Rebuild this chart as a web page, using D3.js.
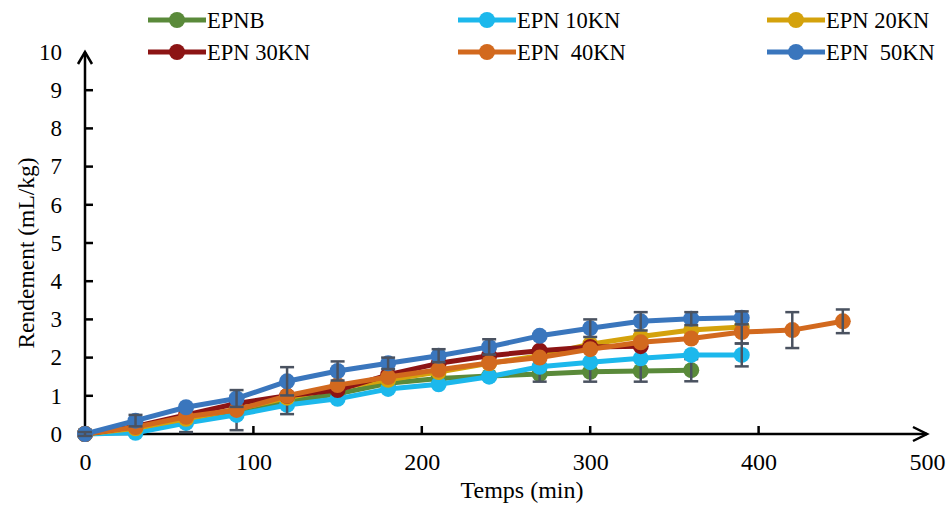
<!DOCTYPE html>
<html>
<head>
<meta charset="utf-8">
<script src="https://cdn.jsdelivr.net/npm/d3@7"></script>
<style>
  body { margin: 0; background: #fff; }
  svg text { font-family: "Times New Roman", Times, "Liberation Serif", serif; font-weight: normal; fill: #000; }
</style>
</head>
<body>
<svg id="chart" width="949" height="505"></svg>
<script>
// Data
const times = [0, 30, 60, 90, 120, 150, 180, 210, 240, 270, 300, 330, 360, 390, 420, 450];

const epnb   = [0, 0.12, 0.35, 0.55, 0.85, 1.05, 1.33, 1.45, 1.52, 1.57, 1.63, 1.65, 1.67];
const epn10  = [0, 0.03, 0.29, 0.50, 0.76, 0.92, 1.18, 1.30, 1.50, 1.76, 1.88, 1.98, 2.07, 2.07];
const epn20  = [0, 0.15, 0.40, 0.65, 0.95, 1.20, 1.42, 1.62, 1.85, 2.05, 2.35, 2.55, 2.72, 2.80];
const epn30  = [0, 0.20, 0.50, 0.80, 1.00, 1.15, 1.55, 1.85, 2.05, 2.18, 2.28, 2.30];
const epn40  = [0, 0.18, 0.45, 0.63, 1.00, 1.28, 1.49, 1.68, 1.86, 2.00, 2.22, 2.40, 2.50, 2.67, 2.72, 2.95];
const epn50  = [0, 0.35, 0.70, 0.93, 1.38, 1.65, 1.85, 2.05, 2.28, 2.57, 2.77, 2.95, 3.02, 3.04];

// error bar half-widths (0 = not visible)
const errB   = [0, 0, 0.3, 0.45, 0, 0, 0, 0, 0, 0.2, 0.26, 0.28, 0.29];
const err10  = [0, 0, 0, 0, 0.24, 0, 0, 0, 0, 0, 0, 0, 0, 0.3];
const err20  = [0, 0, 0, 0, 0, 0, 0, 0, 0, 0, 0, 0, 0, 0];
const err30  = [0, 0, 0, 0, 0, 0, 0, 0, 0, 0, 0, 0];
const err40  = [0, 0, 0, 0, 0, 0, 0, 0, 0, 0, 0, 0, 0, 0.3, 0.47, 0.31];
const err50  = [0.05, 0.15, 0, 0.22, 0.37, 0.25, 0.15, 0.17, 0.2, 0, 0.23, 0.24, 0.17, 0.17];

const seriesNames  = ["EPNB", "EPN 10KN", "EPN 20KN", "EPN 30KN", "EPN  40KN", "EPN  50KN"];
const seriesColors = ["#5a8a3a", "#1cb8ec", "#d4a20c", "#8c1414", "#d2691e", "#3a76bd"];
const seriesValues = [epnb, epn10, epn20, epn30, epn40, epn50];
const seriesErrors = [errB, err10, err20, err30, err40, err50];

const xTicks = [0, 100, 200, 300, 400, 500];
const yTicks = [0, 1, 2, 3, 4, 5, 6, 7, 8, 9, 10];

const svg = d3.select("#chart");
const margin = { left: 85, top: 52, right: 22, bottom: 71 };
const width = 949 - margin.left - margin.right;
const height = 505 - margin.top - margin.bottom;

const g = svg.append("g").attr("transform", `translate(${margin.left}, ${margin.top})`);

const xScale = d3.scaleLinear().domain([0, 500]).range([0, width]);
const yScale = d3.scaleLinear().domain([0, 10]).range([height, 0]);

// axes (labels only, lines drawn below)
const xAxis = g.append("g")
    .attr("transform", `translate(0, ${height})`)
    .call(d3.axisBottom(xScale).tickValues(xTicks).tickSize(0).tickPadding(19));
xAxis.attr("font-family", null);
xAxis.select(".domain").remove();
xAxis.selectAll("text").style("font-size", "24px");

const yAxis = g.append("g")
    .call(d3.axisLeft(yScale).tickValues(yTicks).tickSize(0).tickPadding(23));
yAxis.attr("font-family", null);
yAxis.select(".domain").remove();
yAxis.selectAll("text").style("font-size", "23px");

// axis lines with arrows
g.append("line")
    .attr("x1", 0).attr("x2", 0)
    .attr("y1", height).attr("y2", yScale(10))
    .attr("stroke", "#000").attr("stroke-width", 2.5);
g.append("path")
    .attr("d", `M-7,${yScale(10) + 12} L0,${yScale(10)} L7,${yScale(10) + 12}`)
    .attr("fill", "none").attr("stroke", "#000").attr("stroke-width", 2.5);

g.append("line")
    .attr("x1", 0).attr("x2", xScale(500))
    .attr("y1", height).attr("y2", height)
    .attr("stroke", "#000").attr("stroke-width", 2.5);
g.append("path")
    .attr("d", `M${xScale(500) - 14},${height - 7} L${xScale(500)},${height} L${xScale(500) - 14},${height + 7}`)
    .attr("fill", "none").attr("stroke", "#000").attr("stroke-width", 2.5);

// inside ticks
g.selectAll(".ytick").data(yTicks.slice(1, -1)).enter().append("line")
    .attr("x1", 0).attr("x2", 8)
    .attr("y1", d => yScale(d)).attr("y2", d => yScale(d))
    .attr("stroke", "#000").attr("stroke-width", 2.5);
g.selectAll(".xtick").data(xTicks.slice(1, -1)).enter().append("line")
    .attr("x1", d => xScale(d)).attr("x2", d => xScale(d))
    .attr("y1", height).attr("y2", height - 8)
    .attr("stroke", "#000").attr("stroke-width", 2.5);

// axis titles
g.append("text")
    .attr("x", width / 2 + 16)
    .attr("y", height + 64)
    .attr("text-anchor", "middle")
    .style("font-size", "24px")
    .text("Temps (min)");

g.append("text")
    .attr("transform", `translate(-51, ${height / 2 + 10}) rotate(-90)`)
    .attr("text-anchor", "middle")
    .style("font-size", "23.5px")
    .text("Rendement (mL/kg)");

// series
const line = d3.line()
    .x(d => xScale(d.t))
    .y(d => yScale(d.v));

seriesValues.forEach((vals, i) => {
    const data = vals.map((v, j) => ({ t: times[j], v: v, e: seriesErrors[i][j] }));
    const color = seriesColors[i];

    g.append("path")
        .datum(data)
        .attr("fill", "none")
        .attr("stroke", color)
        .attr("stroke-width", 5)
        .attr("stroke-linejoin", "round")
        .attr("d", line);

    g.selectAll(null).data(data).enter().append("circle")
        .attr("cx", d => xScale(d.t))
        .attr("cy", d => yScale(d.v))
        .attr("r", 8)
        .attr("fill", color);

    const eb = g.selectAll(null).data(data.filter(d => d.e > 0)).enter().append("g")
        .attr("stroke", "#4a5260").attr("stroke-width", 2.5);
    eb.append("line")
        .attr("x1", d => xScale(d.t)).attr("x2", d => xScale(d.t))
        .attr("y1", d => yScale(d.v - d.e)).attr("y2", d => yScale(d.v + d.e));
    eb.append("line")
        .attr("x1", d => xScale(d.t) - 7).attr("x2", d => xScale(d.t) + 7)
        .attr("y1", d => yScale(d.v - d.e)).attr("y2", d => yScale(d.v - d.e));
    eb.append("line")
        .attr("x1", d => xScale(d.t) - 7).attr("x2", d => xScale(d.t) + 7)
        .attr("y1", d => yScale(d.v + d.e)).attr("y2", d => yScale(d.v + d.e));
});

// legend
const legendX = [148, 458, 767];
const legendY = [20, 52];

const legendItem = svg.selectAll(".legend-item")
    .data(seriesNames)
    .enter()
    .append("g")
    .attr("class", "legend-item")
    .attr("transform", (d, i) => `translate(${legendX[i % 3]}, ${legendY[Math.floor(i / 3)]})`);

legendItem.append("line")
    .attr("x1", 0).attr("x2", 58)
    .attr("y1", 0).attr("y2", 0)
    .attr("stroke", (d, i) => seriesColors[i])
    .attr("stroke-width", 5);

legendItem.append("circle")
    .attr("cx", 29).attr("cy", 0).attr("r", 8)
    .attr("fill", (d, i) => seriesColors[i]);

legendItem.append("text")
    .attr("x", 59)
    .attr("y", 8)
    .style("font-size", "22.5px")
    .style("white-space", "pre")
    .text(d => d);
</script>
</body>
</html>
